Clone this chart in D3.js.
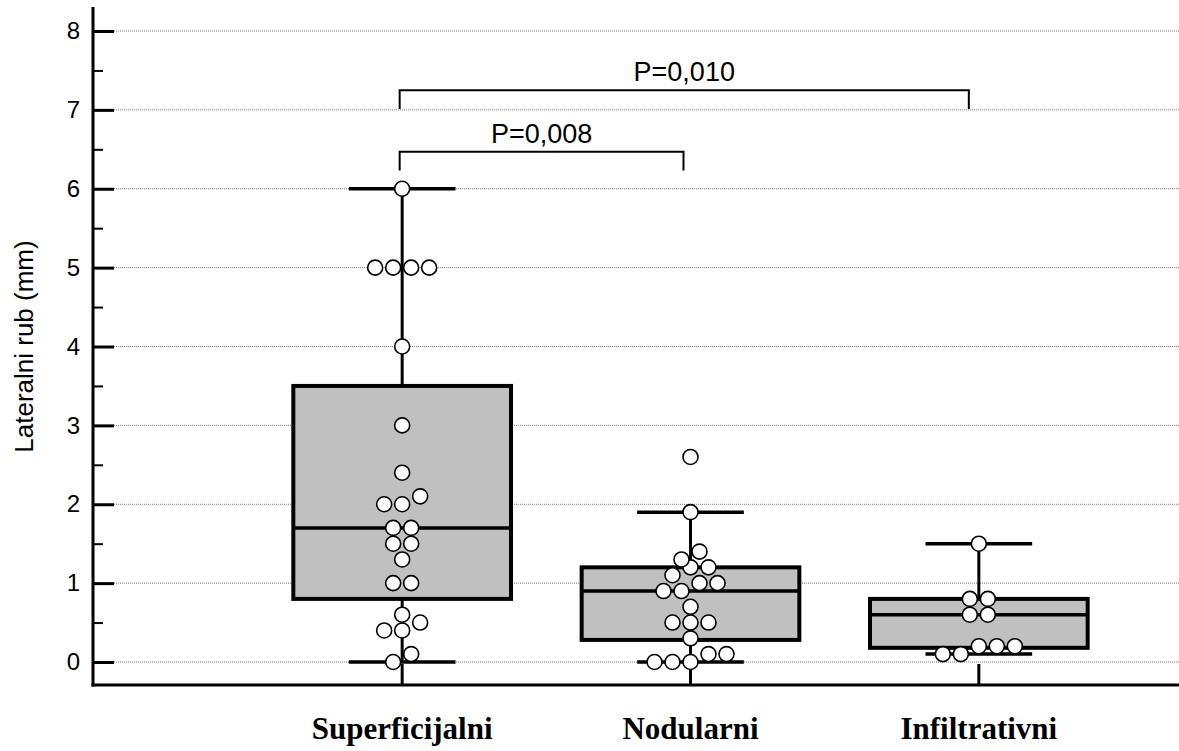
<!DOCTYPE html>
<html><head><meta charset="utf-8">
<script src="https://cdn.jsdelivr.net/npm/d3@7"></script>
<style>html,body{margin:0;padding:0;background:#fff;}</style>
</head><body>
<svg id="chart" width="1179" height="751"></svg>
<script>
// ---- data ----
const categories = ["Superficijalni", "Nodularni", "Infiltrativni"];
const superficijalni = [6, 5, 5, 5, 5, 4, 3, 2.4, 2.1, 2.0, 2.0, 1.7, 1.7, 1.5, 1.5, 1.3, 1.0, 1.0, 0.6, 0.5, 0.4, 0.4, 0.1, 0];
const nodularni = [2.6, 1.9, 1.4, 1.3, 1.2, 1.2, 1.1, 1.0, 1.0, 0.9, 0.9, 0.7, 0.5, 0.5, 0.5, 0.3, 0.1, 0.1, 0, 0, 0];
const infiltrativni = [1.5, 0.8, 0.8, 0.6, 0.6, 0.2, 0.2, 0.2, 0.1, 0.1];
const q1 = [0.8, 0.28, 0.18];
const medians = [1.7, 0.9, 0.6];
const q3 = [3.5, 1.2, 0.8];
const whiskerLow = [0, 0, 0.1];
const whiskerHigh = [6, 1.9, 1.5];
const yTicks = [0, 1, 2, 3, 4, 5, 6, 7, 8];
const yMinorTicks = [0.5, 1.5, 2.5, 3.5, 4.5, 5.5, 6.5, 7.5];
const comparisons = [["Superficijalni", "Nodularni", "P=0,008"], ["Superficijalni", "Infiltrativni", "P=0,010"]];
const comparisonLevels = [6.47, 7.25];
const yTitle = "Lateralni rub (mm)";

const groups = [superficijalni, nodularni, infiltrativni];

// ---- layout ----
const W = 1179, H = 751;
const axisX = 93, axisY = 685;
const svg = d3.select("#chart");
const y = d3.scaleLinear().domain([0, 8]).range([662, 31]);
const x = d3.scaleBand().domain(categories).range([258, 1123]).paddingInner(0);
const cx = c => x(c) + x.bandwidth() / 2;
const boxW = x.bandwidth() * 0.755;
const capW = boxW * 0.49;
const sans = "'Liberation Sans', Arial, sans-serif";

// gridlines
svg.append("g").selectAll("line").data(yTicks).join("line")
  .attr("x1", axisX + 21).attr("x2", W)
  .attr("y1", d => y(d)).attr("y2", d => y(d))
  .attr("stroke", "#7a7a7a").attr("stroke-width", 1).attr("stroke-dasharray", "1,1");

// y axis
const yAxis = d3.axisLeft(y).tickValues(yTicks).tickSize(-21).tickPadding(13).tickFormat(d3.format("d"));
const gy = svg.append("g").attr("transform", `translate(${axisX},0)`).call(yAxis);
gy.select(".domain").remove();
gy.selectAll(".tick line").attr("stroke", "#000").attr("stroke-width", 3);
gy.selectAll(".tick text").attr("font-family", sans).attr("font-size", 24).attr("fill", "#000");
const yMinor = d3.axisLeft(y).tickValues(yMinorTicks).tickSize(-10).tickFormat("");
const gym = svg.append("g").attr("transform", `translate(${axisX},0)`).call(yMinor);
gym.select(".domain").remove();
gym.selectAll(".tick line").attr("stroke", "#000").attr("stroke-width", 2);

svg.append("line").attr("x1", axisX).attr("x2", axisX).attr("y1", 7).attr("y2", axisY + 1.5)
  .attr("stroke", "#000").attr("stroke-width", 3);

svg.append("text").attr("transform", `translate(33,${y(4.0)}) rotate(-90)`)
  .attr("text-anchor", "middle").attr("font-family", sans).attr("font-size", 26).text(yTitle);

// x axis
svg.append("line").attr("x1", axisX - 1.5).attr("x2", W).attr("y1", axisY).attr("y2", axisY)
  .attr("stroke", "#000").attr("stroke-width", 3);
svg.append("g").selectAll("line").data(categories).join("line")
  .attr("x1", cx).attr("x2", cx).attr("y1", axisY - 21).attr("y2", axisY)
  .attr("stroke", "#000").attr("stroke-width", 3);
svg.append("g").selectAll("text").data(categories).join("text")
  .attr("x", cx).attr("y", 739).attr("text-anchor", "middle")
  .attr("font-family", "'Liberation Serif', 'Times New Roman', serif").attr("font-weight", "bold")
  .attr("font-size", 31).text(d => d);

// boxes
const boxes = svg.append("g");
categories.forEach((c, i) => {
  const g = boxes.append("g");
  const c0 = cx(c);
  g.append("line").attr("x1", c0).attr("x2", c0).attr("y1", y(whiskerLow[i])).attr("y2", y(q1[i]))
    .attr("stroke", "#000").attr("stroke-width", 3);
  g.append("line").attr("x1", c0).attr("x2", c0).attr("y1", y(q3[i])).attr("y2", y(whiskerHigh[i]))
    .attr("stroke", "#000").attr("stroke-width", 3);
  [whiskerLow[i], whiskerHigh[i]].forEach(v => {
    g.append("line").attr("x1", c0 - capW / 2).attr("x2", c0 + capW / 2).attr("y1", y(v)).attr("y2", y(v))
      .attr("stroke", "#000").attr("stroke-width", 3.5);
  });
  g.append("rect").attr("x", c0 - boxW / 2).attr("width", boxW)
    .attr("y", y(q3[i])).attr("height", y(q1[i]) - y(q3[i]))
    .attr("fill", "#c0c0c0").attr("stroke", "#000").attr("stroke-width", 4);
  g.append("line").attr("x1", c0 - boxW / 2).attr("x2", c0 + boxW / 2).attr("y1", y(medians[i])).attr("y2", y(medians[i]))
    .attr("stroke", "#000").attr("stroke-width", 3.5);
});

// points (dot-plot layout: values within a dot's height are spread horizontally)
const step = 18;
const pts = [];
groups.forEach((vals, i) => {
  const s = vals.slice().sort((a, b) => a - b);
  let bin = [];
  const flush = () => {
    bin.forEach((v, k) => pts.push({ c: categories[i], v, off: (k - (bin.length - 1) / 2) * step }));
    bin = [];
  };
  s.forEach(v => {
    if (bin.length && v - bin[0] > 0.15) flush();
    bin.push(v);
  });
  flush();
});
svg.append("g").selectAll("circle").data(pts).join("circle")
  .attr("cx", d => cx(d.c) + d.off).attr("cy", d => y(d.v)).attr("r", 7.5)
  .attr("fill", "#fff").attr("stroke", "#000").attr("stroke-width", 1.6);

// comparison brackets
const br = svg.append("g");
comparisons.forEach(([a, b, label], i) => {
  const yy = y(comparisonLevels[i]);
  const xa = cx(a) - 2.5, xb = cx(b) - 7 - i * 3;
  br.append("path")
    .attr("d", `M${xa},${y(comparisonLevels[i] - 0.24)}V${yy}H${xb}V${y(comparisonLevels[i] - 0.24)}`)
    .attr("fill", "none").attr("stroke", "#000").attr("stroke-width", 2);
  br.append("text").attr("x", (xa + xb) / 2).attr("y", yy - 9).attr("text-anchor", "middle")
    .attr("font-family", sans).attr("font-size", 27).text(label);
});
</script>
</body></html>
